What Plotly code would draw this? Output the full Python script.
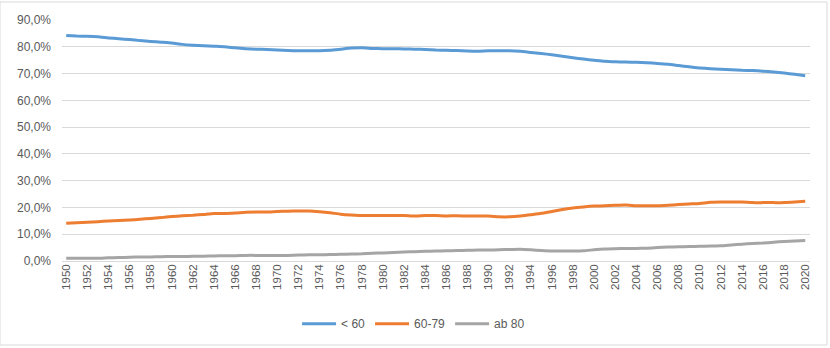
import plotly.graph_objects as go

years = list(range(1950, 2021))

under_60 = [84.2, 84.0, 83.9, 83.7, 83.3, 83.0, 82.7, 82.3, 82.0, 81.7,
            81.4, 80.9, 80.6, 80.4, 80.2, 80.0, 79.6, 79.3, 79.1, 79.0,
            78.8, 78.6, 78.5, 78.5, 78.5, 78.7, 79.1, 79.5, 79.6, 79.4,
            79.3, 79.3, 79.2, 79.1, 79.0, 78.8, 78.7, 78.6, 78.4, 78.3,
            78.5, 78.5, 78.5, 78.3, 77.9, 77.5, 77.0, 76.5, 75.9, 75.4,
            75.0, 74.6, 74.4, 74.3, 74.2, 74.0, 73.8, 73.5, 73.0, 72.5,
            72.1, 71.8, 71.6, 71.4, 71.2, 71.1, 70.9, 70.6, 70.2, 69.7,
            69.2]

age_60_79 = [14.1, 14.3, 14.5, 14.7, 14.9, 15.1, 15.3, 15.6, 15.9, 16.2,
             16.6, 16.9, 17.1, 17.4, 17.7, 17.7, 17.9, 18.2, 18.3, 18.3,
             18.5, 18.6, 18.7, 18.7, 18.4, 18.0, 17.5, 17.2, 17.0, 17.0,
             17.0, 17.0, 17.0, 16.8, 17.0, 17.0, 16.8, 16.9, 16.8, 16.8,
             16.8, 16.5, 16.5, 16.8, 17.3, 17.8, 18.5, 19.2, 19.8, 20.2,
             20.5, 20.6, 20.8, 20.9, 20.6, 20.6, 20.6, 20.8, 21.1, 21.3,
             21.5, 21.9, 22.0, 22.0, 22.0, 21.8, 21.8, 21.8, 21.8, 22.0,
             22.3]

ab_80 = [1.0, 1.0, 1.0, 1.0, 1.2, 1.3, 1.4, 1.5, 1.5, 1.6,
         1.7, 1.7, 1.75, 1.8, 1.9, 2.0, 2.0, 2.1, 2.1, 2.1,
         2.1, 2.1, 2.2, 2.3, 2.3, 2.4, 2.5, 2.6, 2.7, 2.9,
         3.0, 3.2, 3.4, 3.5, 3.6, 3.7, 3.8, 3.9, 4.0, 4.1,
         4.1, 4.2, 4.3, 4.4, 4.2, 3.9, 3.7, 3.7, 3.7, 3.8,
         4.2, 4.5, 4.6, 4.7, 4.7, 4.8, 5.0, 5.2, 5.3, 5.4,
         5.5, 5.6, 5.7, 6.0, 6.3, 6.5, 6.7, 7.0, 7.3, 7.5,
         7.7]

series_names = ["< 60", "60-79", "ab 80"]
series_colors = ["#5B9BD5", "#ED7D31", "#A5A5A5"]

x_ticks = list(range(1950, 2021, 2))
y_ticks = list(range(0, 91, 10))
y_labels = [f"{v},0%" for v in y_ticks]

fig = go.Figure()
for name, vals, col in zip(series_names, [under_60, age_60_79, ab_80], series_colors):
    fig.add_trace(go.Scatter(
        x=years, y=vals, name=name, mode="lines",
        line=dict(color=col, width=3, shape="spline", smoothing=0.5),
    ))

font_col = "#595959"
fig.update_layout(
    width=830, height=348,
    margin=dict(l=62, r=20, t=20, b=87, autoexpand=False),
    paper_bgcolor="white", plot_bgcolor="white",
    font=dict(family="Liberation Sans, Arial, sans-serif", size=12, color=font_col),
    showlegend=True,
    legend=dict(orientation="h", x=0.47, xanchor="center", y=-0.26, yanchor="middle",
                font=dict(size=12, color=font_col), itemwidth=34,
                bgcolor="rgba(0,0,0,0)"),
    xaxis=dict(range=[1949.6, 2020.45], tickmode="array", tickvals=x_ticks,
               ticktext=[str(v) for v in x_ticks], tickangle=-90,
               showgrid=False, zeroline=False, showline=False, ticks="",
               automargin=False,
               tickfont=dict(size=11.5, color=font_col)),
    yaxis=dict(range=[0, 90], tickmode="array", tickvals=y_ticks,
               ticktext=y_labels, automargin=False, ticklabelstandoff=10,
               showgrid=True, gridcolor="#D9D9D9", gridwidth=1,
               zeroline=True, zerolinecolor="#D9D9D9", zerolinewidth=1,
               showline=False, ticks="",
               tickfont=dict(size=12, color=font_col)),
)

fig.add_shape(type="rect", xref="paper", yref="paper",
              x0=-62/748, x1=(827-62)/748, y0=-(345-261)/241, y1=(261-2)/241,
              line=dict(color="#D9D9D9", width=1), layer="below")

fig.write_html("out.html")
